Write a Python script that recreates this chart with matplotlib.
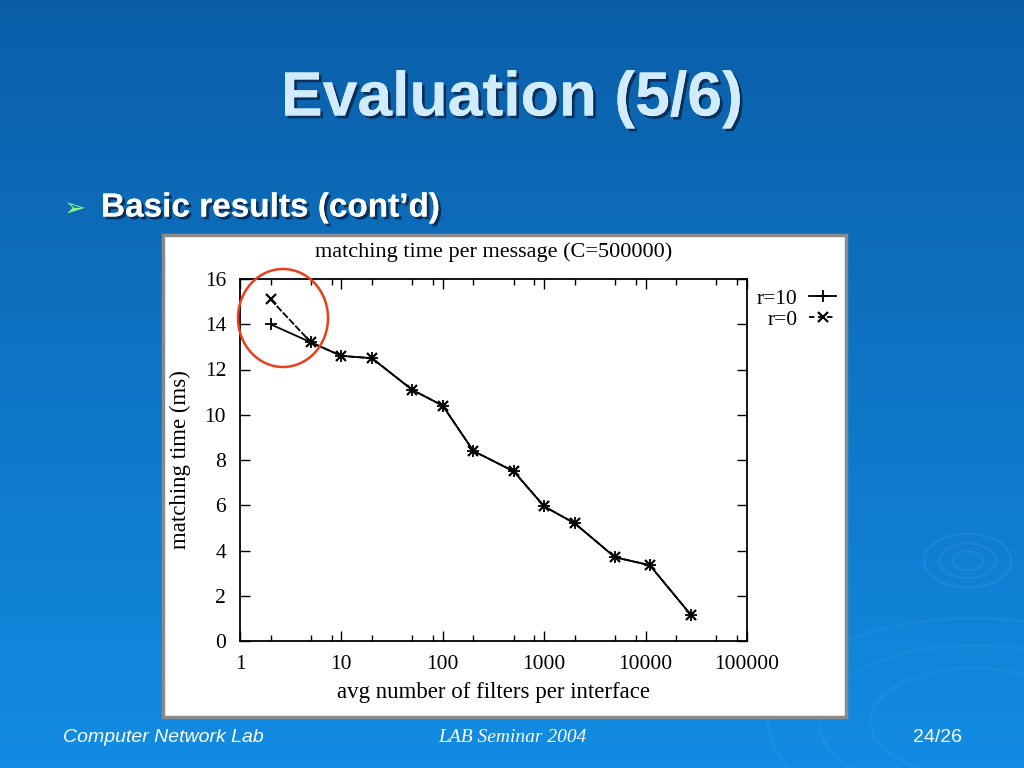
import numpy as np
import matplotlib
matplotlib.use('Agg')
import matplotlib.pyplot as plt
from matplotlib.patches import Ellipse, Rectangle
from matplotlib.lines import Line2D
from matplotlib import patheffects as pe

# data
filters = [2, 5, 10, 20, 50, 100, 200, 500, 1000, 2000, 5000, 11000, 28000]
time_r10 = [14.0, 13.2, 12.6, 12.5, 11.1, 10.4, 8.4, 7.5, 5.95, 5.2, 3.7, 3.35, 1.15]
time_r0 = [15.1, 13.2, 12.6, 12.5, 11.1, 10.4, 8.4, 7.5, 5.95, 5.2, 3.7, 3.35, 1.15]
xticks = [1, 10, 100, 1000, 10000, 100000]
yticks = [0, 2, 4, 6, 8, 10, 12, 14, 16]

W, H = 1024, 768
fig = plt.figure(figsize=(W / 100, H / 100), dpi=100)

# slide background gradient
bg = fig.add_axes([0, 0, 1, 1], zorder=-5)
top = np.array([0.04, 0.37, 0.66])
bot = np.array([0.07, 0.55, 0.89])
t = np.linspace(0, 1, 256)[:, None]
grad = top + (bot - top) * t
bg.imshow(grad[:, None, :].repeat(2, axis=1), aspect='auto', extent=[0, 1, 0, 1])
# faint ripples in the lower right corner
for w, h in [(0.03, 0.025), (0.055, 0.045), (0.085, 0.07)]:
    bg.add_patch(Ellipse((0.945, 0.27), w, h, fill=False, ec=(1, 1, 1, 0.06), lw=1.5))
for w, h in [(0.2, 0.14), (0.3, 0.2), (0.4, 0.27)]:
    bg.add_patch(Ellipse((0.95, 0.06), w, h, fill=False, ec=(1, 1, 1, 0.035), lw=2))
# white panel holding the gnuplot chart
bg.add_patch(Rectangle((163 / W, 1 - 717 / H), 683 / W, 482 / H,
                       fc='white', ec='#8a8a8a', lw=2.5))
bg.set_xlim(0, 1)
bg.set_ylim(0, 1)
bg.axis('off')

shadow = [pe.withSimplePatchShadow(offset=(2, -2), shadow_rgbFace='#0a2a50', alpha=0.9)]
fig.text(512 / W, 1 - 99 / H, 'Evaluation (5/6)', ha='center', va='center',
         fontsize=45, fontweight='bold', family='Liberation Sans', color='#d2ecff',
         path_effects=shadow + [pe.Normal()])
fig.text(63 / W, 1 - 209 / H, '\u27a2', ha='left', va='center', fontsize=19,
         family='DejaVu Sans', color='#8cf08c')
fig.text(101 / W, 1 - 208 / H, 'Basic results (cont\u2019d)', ha='left', va='center',
         fontsize=24, fontweight='bold', family='Liberation Sans', color='white',
         path_effects=shadow + [pe.Normal()])

# footer
fig.text(63 / W, 1 - 737 / H, 'Computer Network Lab', ha='left', va='center',
         fontsize=14, style='italic', family='Liberation Sans', color='white')
fig.text(512 / W, 1 - 738 / H, 'LAB Seminar 2004', ha='center', va='center',
         fontsize=14, style='italic', family='Liberation Serif', color='white')
fig.text(962 / W, 1 - 737 / H, '24/26', ha='right', va='center',
         fontsize=14, family='Liberation Sans', color='white')

ax = fig.add_axes([240 / W, 1 - 641 / H, 507 / W, 362 / H])
ax.plot(filters, time_r10, color='black', lw=1.3, marker='+', ms=8, mew=1.3, label='r=10')
ax.plot(filters, time_r0, color='black', lw=1.3, ls=(0, (4, 1)), marker='x', ms=7, mew=1.6, label='r=0')
ax.set_xscale('log')
ax.set_xlim(1, 100000)
ax.set_ylim(0, 16)
ax.set_xticks(xticks)
ax.set_xticklabels([str(v) for v in xticks])
ax.xaxis.set_minor_locator(matplotlib.ticker.LogLocator(base=10, subs=[2, 5, 8]))
ax.xaxis.set_minor_formatter(matplotlib.ticker.NullFormatter())
ax.set_yticks(yticks)
ax.tick_params(which='both', direction='in', top=True, right=True, labelsize=15.5, width=1)
ax.tick_params(which='major', length=7)
ax.tick_params(which='minor', length=4)
ax.tick_params(axis='x', pad=10)
ax.tick_params(axis='y', pad=10)
for lbl in ax.get_xticklabels() + ax.get_yticklabels():
    lbl.set_family('Liberation Serif')
for s in ax.spines.values():
    s.set_linewidth(1.3)
ax.set_xlabel('avg number of filters per interface', family='Liberation Serif', fontsize=16.5, labelpad=6)
ax.set_ylabel('matching time (ms)', family='Liberation Serif', fontsize=16.5, labelpad=10)
ax.set_title('matching time per message (C=500000)', family='Liberation Serif', fontsize=16, pad=16)

handles = [Line2D([], [], color='black', lw=1.3, marker='+', ms=8, mew=1.3),
           Line2D([], [], color='black', lw=1.3, ls=(0, (3, 2)), marker='x', ms=7, mew=1.6)]
ax.legend(handles, ['r=10', 'r=0'], loc='upper left', bbox_to_anchor=(0.99, 1.015),
          markerfirst=False, frameon=False, handlelength=1.3, handletextpad=0.5,
          labelspacing=0.05, borderpad=0.2, prop={'family': 'Liberation Serif', 'size': 15.5})

# red highlight circle around the first points
fig.patches.append(Ellipse((283 / W, 1 - 318 / H), 90 / W, 98 / H, transform=fig.transFigure,
                           fill=False, ec='#e8401c', lw=1.8, zorder=10))

fig.savefig('out.png', dpi=100)
